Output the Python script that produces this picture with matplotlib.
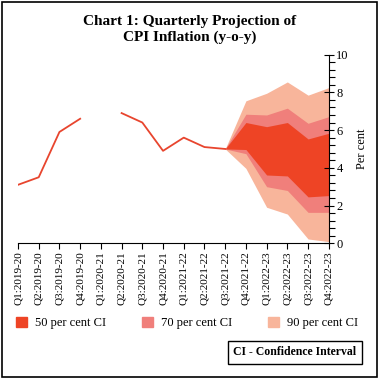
import numpy as np
import matplotlib
matplotlib.use('Agg')
import matplotlib.pyplot as plt
from matplotlib.patches import Patch, Rectangle
from matplotlib.ticker import MultipleLocator

quarters = ['Q1:2019-20', 'Q2:2019-20', 'Q3:2019-20', 'Q4:2019-20',
            'Q1:2020-21', 'Q2:2020-21', 'Q3:2020-21', 'Q4:2020-21',
            'Q1:2021-22', 'Q2:2021-22', 'Q3:2021-22', 'Q4:2021-22',
            'Q1:2022-23', 'Q2:2022-23', 'Q3:2022-23', 'Q4:2022-23']

# actual CPI inflation (Q1:2020-21 not available)
actual = [3.1, 3.5, 5.9, 6.6, np.nan, 6.9, 6.4, 4.9, 5.6, 5.1, 5.0]

# projection fan, from Q3:2021-22 to Q4:2022-23
fan_start = 10
upper90 = [5.0, 7.55, 7.95, 8.55, 7.85, 8.25]
upper70 = [5.0, 6.84, 6.8, 7.16, 6.36, 6.71]
upper50 = [5.0, 6.4, 6.18, 6.4, 5.53, 5.83]
lower50 = [5.0, 4.97, 3.62, 3.57, 2.46, 2.53]
lower70 = [5.0, 4.75, 3.0, 2.8, 1.64, 1.64]
lower90 = [5.0, 3.97, 1.91, 1.55, 0.23, 0.09]

c50 = '#ee4425'
c70 = '#f07f7b'
c90 = '#f8b59b'
line_c = '#e8452e'

plt.rcParams['font.family'] = ['Liberation Serif', 'DejaVu Serif']

fig = plt.figure(figsize=(3.79, 3.79), dpi=100)
ax = fig.add_axes([0.0475, 0.358, 0.82, 0.498])

x = np.arange(len(quarters))
ax.plot(x[:len(actual)], actual, color=line_c, lw=1.3)

xf = x[fan_start:]
ax.fill_between(xf, lower90, upper90, color=c90, lw=0)
ax.fill_between(xf, lower70, upper70, color=c70, lw=0)
ax.fill_between(xf, lower50, upper50, color=c50, lw=0)

ax.set_xlim(0, len(quarters) - 1)
ax.set_ylim(0, 10)
ax.set_xticks(x)
ax.set_xticklabels(quarters, rotation=90, fontsize=8)

ax.spines['top'].set_visible(False)
ax.spines['left'].set_visible(False)
ax.spines['right'].set_linewidth(0.8)
ax.spines['bottom'].set_linewidth(0.8)
ax.yaxis.tick_right()
ax.yaxis.set_label_position('right')
ax.yaxis.set_major_locator(MultipleLocator(2))
ax.yaxis.set_minor_locator(MultipleLocator(0.4))
ax.tick_params(axis='y', which='major', direction='inout', length=7, width=0.8, labelsize=9, pad=2)
ax.tick_params(axis='y', which='minor', direction='out', length=4, width=0.8)
ax.tick_params(axis='x', direction='out', length=4, width=0.8, pad=2)
ax.set_ylabel('Per cent', fontsize=9, labelpad=5)

fig.text(0.5, 0.922, 'Chart 1: Quarterly Projection of\nCPI Inflation (y-o-y)',
         ha='center', va='center', fontsize=11, fontweight='bold', linespacing=1.3)

handles = [Patch(color=c50, label='50 per cent CI'),
           Patch(color=c70, label='70 per cent CI'),
           Patch(color=c90, label='90 per cent CI')]
fig.legend(handles=handles, loc='center left', bbox_to_anchor=(0.012, 0.148), ncol=3,
           frameon=False, fontsize=9, handlelength=0.9, handleheight=0.9,
           handletextpad=0.6, columnspacing=2.9)

fig.text(0.778, 0.07, 'CI - Confidence Interval', ha='center', va='center',
         fontsize=8.5, fontweight='bold',
         bbox=dict(boxstyle='square,pad=0.45', facecolor='white', edgecolor='black', lw=1))

fig.patches.append(Rectangle((0.005, 0.005), 0.99, 0.99, transform=fig.transFigure,
                             fill=False, edgecolor='black', lw=1.2))

fig.savefig('out.png', dpi=100)
